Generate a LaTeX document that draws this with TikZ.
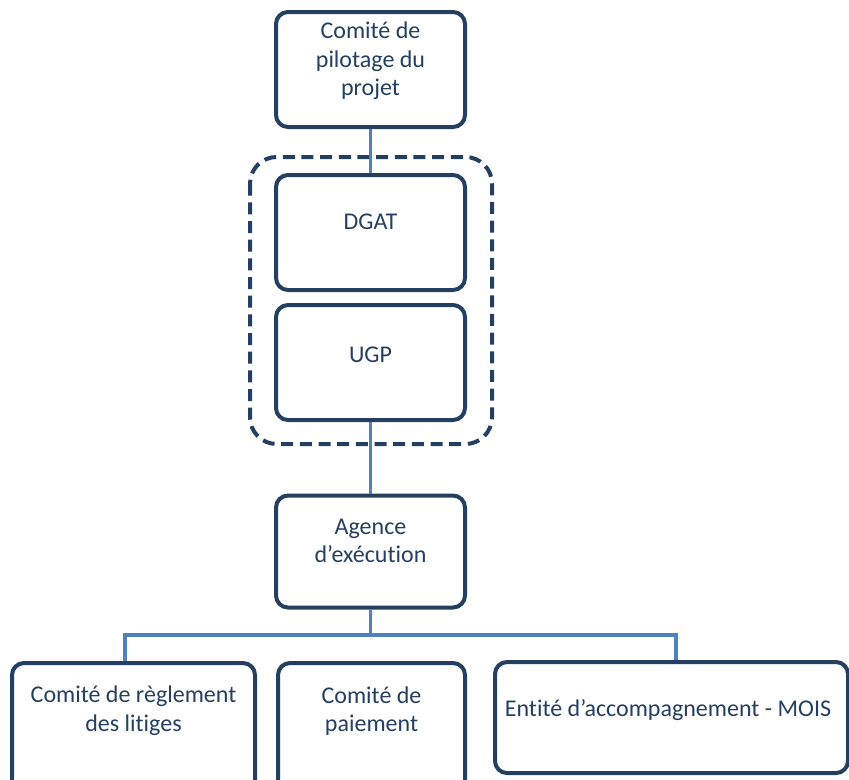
\documentclass[tikz,border=0pt]{standalone}
\usepackage{fontspec}
\setmainfont{Carlito}[Ligatures={NoCommon}]
\usetikzlibrary{positioning}
\usetikzlibrary{calc}
\definecolor{navy}{HTML}{243F60}
\definecolor{linkblue}{HTML}{4F81BD}

\begin{document}
\begin{tikzpicture}[x=0.75pt,y=-0.75pt,
  box/.style={draw=navy,line width=3pt,rounded corners=9pt,
    minimum width=141.75pt,minimum height=86.25pt},
  lbl/.style={text=navy,align=center,inner sep=0pt,
    font=\fontsize{18}{21.5}\selectfont},
  link/.style={draw=linkblue,line width=2.8pt}]
\useasboundingbox (0,0) rectangle (849,779);
\clip (0,0) rectangle (849,779);

% upper column
\node[box] (pilot) at (370.5,69.5) {};
\node[lbl] (pilottxt) at (370.5,61) {Comité de\\pilotage du\\projet};

\node[box] (dgat) at (370.5,232.5) {};
\node[lbl] (dgattxt) at (370.5,222) {DGAT};

\node[box] (ugp) at (370.5,362.5) {};
\node[lbl] (ugptxt) at (370.5,355) {UGP};

% dashed group
\draw[navy,line width=3pt,dash pattern=on 9pt off 5pt,rounded corners=20pt]
  (250,157) rectangle (492,444);

\node[box,minimum height=84pt] (agence) at (370.5,551.5) {};
\node[lbl] (agencetxt) at (370.5,541) {Agence\\d’exécution};

% lower row
\node[box,minimum width=182.25pt,minimum height=97.5pt] (litiges) at (133.5,728) {};
\node[lbl] (litigestxt) at (133.5,711) {Comité de règlement\\des litiges};

\node[box,minimum width=140.25pt,minimum height=97.5pt] (paiement) at (371.5,728) {};
\node[lbl] (paiementtxt) at (371.5,711) {Comité de\\paiement};

\node[box,minimum width=264.75pt,minimum height=83.25pt] (mois) at (671.5,717.5) {};
\node[lbl] (moistxt) at (668,710) {Entité d’accompagnement - MOIS};

% connectors
\coordinate (split) at (370.5,635);
\draw[link] (pilot) -- (dgat);
\draw[link] (ugp) -- (agence);
\draw[link] (agence) -- (split);
\draw[link] (split) -| ([xshift=-6.4pt]litiges.north);
\draw[link] (split) -| ([xshift=3.4pt]mois.north);

\end{tikzpicture}
\end{document}
